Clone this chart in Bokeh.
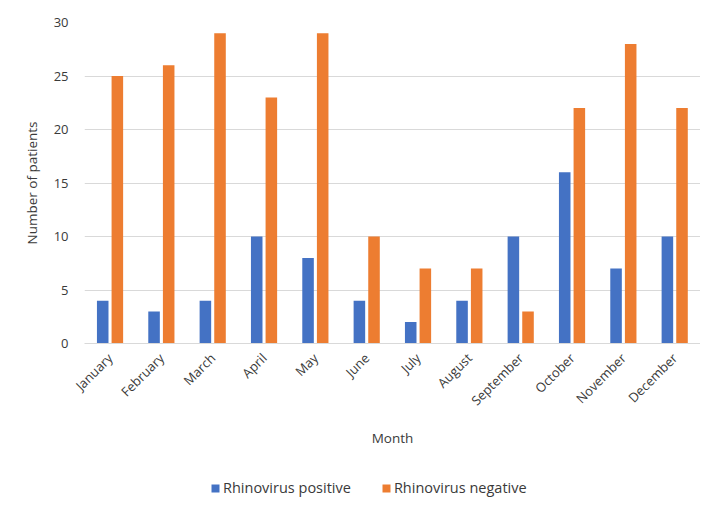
from bokeh.plotting import figure
from bokeh.models import FactorRange, ColumnDataSource, Legend, LegendItem
from bokeh.layouts import column
from bokeh.transform import dodge
from bokeh.embed import file_html
from bokeh.resources import INLINE
import math

months = ["January", "February", "March", "April", "May", "June", "July",
          "August", "September", "October", "November", "December"]
positive = [4, 3, 4, 10, 8, 4, 2, 4, 10, 16, 7, 10]
negative = [25, 26, 29, 23, 29, 10, 7, 7, 3, 22, 28, 22]
yticks = [0, 5, 10, 15, 20, 25, 30]
series = ["Rhinovirus positive", "Rhinovirus negative"]
colors = ["#4472C4", "#ED7D31"]

src = ColumnDataSource(dict(month=months, pos=positive, neg=negative))

FONT = "Open Sans"
TXT = "#3a3a3a"

p = figure(x_range=FactorRange(*months, range_padding=0), y_range=(0, 30),
           frame_width=616, frame_height=321,
           output_backend="svg", toolbar_location=None,
           min_border_left=84, min_border_right=0, min_border_top=22,
           min_border_bottom=127)
p.outline_line_color = None
p.background_fill_color = "white"

p.vbar(x=dodge("month", -0.145, range=p.x_range), top="pos", width=0.225,
       source=src, color=colors[0], line_color=None)
p.vbar(x=dodge("month", 0.14, range=p.x_range), top="neg", width=0.225,
       source=src, color=colors[1], line_color=None)

p.yaxis.ticker = yticks
p.ygrid.grid_line_color = "#D9D9D9"
p.ygrid.grid_line_width = 1
p.xgrid.grid_line_color = None
p.yaxis.axis_line_color = None
p.yaxis.major_tick_line_color = None
p.yaxis.minor_tick_line_color = None
p.xaxis.axis_line_color = "#D9D9D9"
p.xaxis.major_tick_line_color = None
p.xaxis.minor_tick_line_color = None
p.xaxis.major_label_orientation = math.pi / 4

for ax in (p.xaxis[0], p.yaxis[0]):
    ax.major_label_text_font = FONT
    ax.major_label_text_font_size = "13px"
    ax.major_label_text_color = TXT
    ax.axis_label_text_font = FONT
    ax.axis_label_text_font_size = "13.5px"
    ax.axis_label_text_color = TXT
    ax.axis_label_text_font_style = "normal"

p.yaxis.axis_label = "Number of patients"
p.yaxis.major_label_standoff = 10
p.yaxis.axis_label_standoff = 10
p.xaxis.axis_label = "Month"
p.xaxis.major_label_standoff = 6
p.xaxis.axis_label_standoff = 10

# Legend strip below the chart (legend-only figure; swatch glyphs sit outside its view)
lg = figure(width=692, height=36, output_backend="svg", toolbar_location=None,
            min_border=0, x_range=(0, 1), y_range=(0, 1))
lg.outline_line_color = None
lg.axis.visible = False
lg.grid.visible = False
ra = lg.vbar(x=[5], bottom=[4], top=[5], width=0.1, color=colors[0], line_color=None)
rb = lg.vbar(x=[5], bottom=[4], top=[5], width=0.1, color=colors[1], line_color=None)
legend = Legend(items=[LegendItem(label=series[0], renderers=[ra]),
                       LegendItem(label=series[1], renderers=[rb])],
                orientation="horizontal", location=(126, 9),
                label_text_font=FONT, label_text_font_size="14.5px",
                label_text_color=TXT, glyph_width=10, glyph_height=10,
                spacing=30, border_line_color=None, background_fill_alpha=0,
                label_standoff=3, padding=0, margin=0)
lg.add_layout(legend, "center")

layout = column(p, lg, spacing=0)
open("out.html", "w").write(file_html(layout, INLINE))
